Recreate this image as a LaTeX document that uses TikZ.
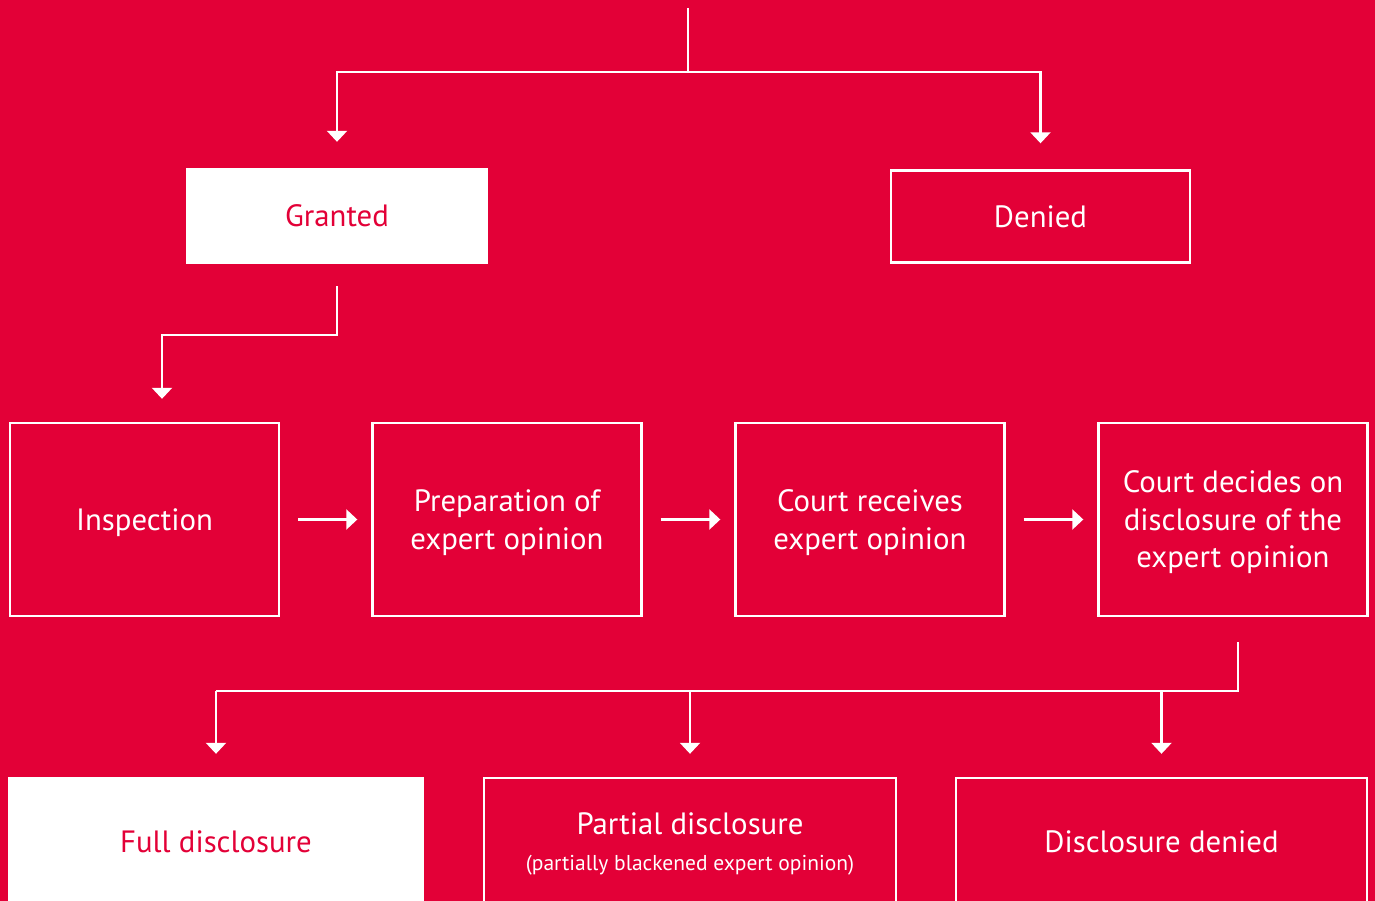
\documentclass[tikz,border=0pt]{standalone}
\usepackage{fontspec}
\setmainfont{PT Sans}
\usetikzlibrary{arrows.meta}
\definecolor{brand}{RGB}{227,0,55}
\begin{document}
\begin{tikzpicture}[x=1pt,y=-1pt,
  box/.style={draw=white, line width=2.4pt, text=white, align=center, inner sep=0pt,
    text depth=0pt, font=\fontsize{30.8}{37.5}\selectfont},
  filled/.style={box, fill=white, text=brand},
  link/.style={draw=white, line width=2.2pt, -{Triangle[width=20pt,length=11pt]}},
  plain/.style={draw=white, line width=2.2pt}]
\fill[brand] (0,0) rectangle (1375,901);
\useasboundingbox (0,0) rectangle (1375,901);

% decision boxes
\node[filled, minimum width=300pt, minimum height=94pt] (granted) at (337,216) {Granted};
\node[box, minimum width=299pt, minimum height=92pt] (denied) at (1040.5,216.5) {Denied};

% process row
\node[box, minimum width=269pt, minimum height=193pt] (insp) at (144.5,519.5) {Inspection};
\node[box, minimum width=269pt, minimum height=193pt] (prep) at (507,519.5) {Preparation of\\expert opinion};
\node[box, minimum width=269pt, minimum height=193pt] (recv) at (870,519.5) {Court receives\\expert opinion};
\node[box, minimum width=269pt, minimum height=193pt] (decide) at (1233,519.5) {Court decides on\\disclosure of the\\expert opinion};

% outcomes
\node[filled, minimum width=414pt, minimum height=127pt] (full) at (216,841.5) {Full disclosure};
\node[box, minimum width=412pt, minimum height=127pt] (partial) at (690,841.5)
  {Partial disclosure\\[-2pt]{\fontsize{21.5}{24}\selectfont (partially blackened expert opinion)}};
\node[box, minimum width=411pt, minimum height=127pt] (refused) at (1161.5,841.5) {Disclosure denied};

% top split
\coordinate (src) at (688,8);
\coordinate (split1) at (688,72);
\draw[plain] (src) -- (split1);
\draw[link] (split1) -| ([yshift=26pt]granted.north);
\draw[link] (split1) -| ([yshift=26pt]denied.north);

% granted to inspection
\draw[link] ([yshift=-22pt]granted.south) -- ++(0,49) -| ([xshift=17.5pt,yshift=23pt]insp.north);

% process chain
\draw[link] ([xshift=18pt]insp.east) -- ([xshift=-14pt]prep.west);
\draw[link] ([xshift=18pt]prep.east) -- ([xshift=-14pt]recv.west);
\draw[link] ([xshift=18pt]recv.east) -- ([xshift=-14pt]decide.west);

% bottom split
\coordinate (bus) at (0,691);
\draw[plain] ([xshift=5pt,yshift=-25pt]decide.south) |- (full.north |- bus);
\draw[link] (full.north |- bus) -- ([yshift=23pt]full.north);
\draw[link] (partial.north |- bus) -- ([yshift=23pt]partial.north);
\draw[link] (refused.north |- bus) -- ([yshift=23pt]refused.north);
\end{tikzpicture}
\end{document}
